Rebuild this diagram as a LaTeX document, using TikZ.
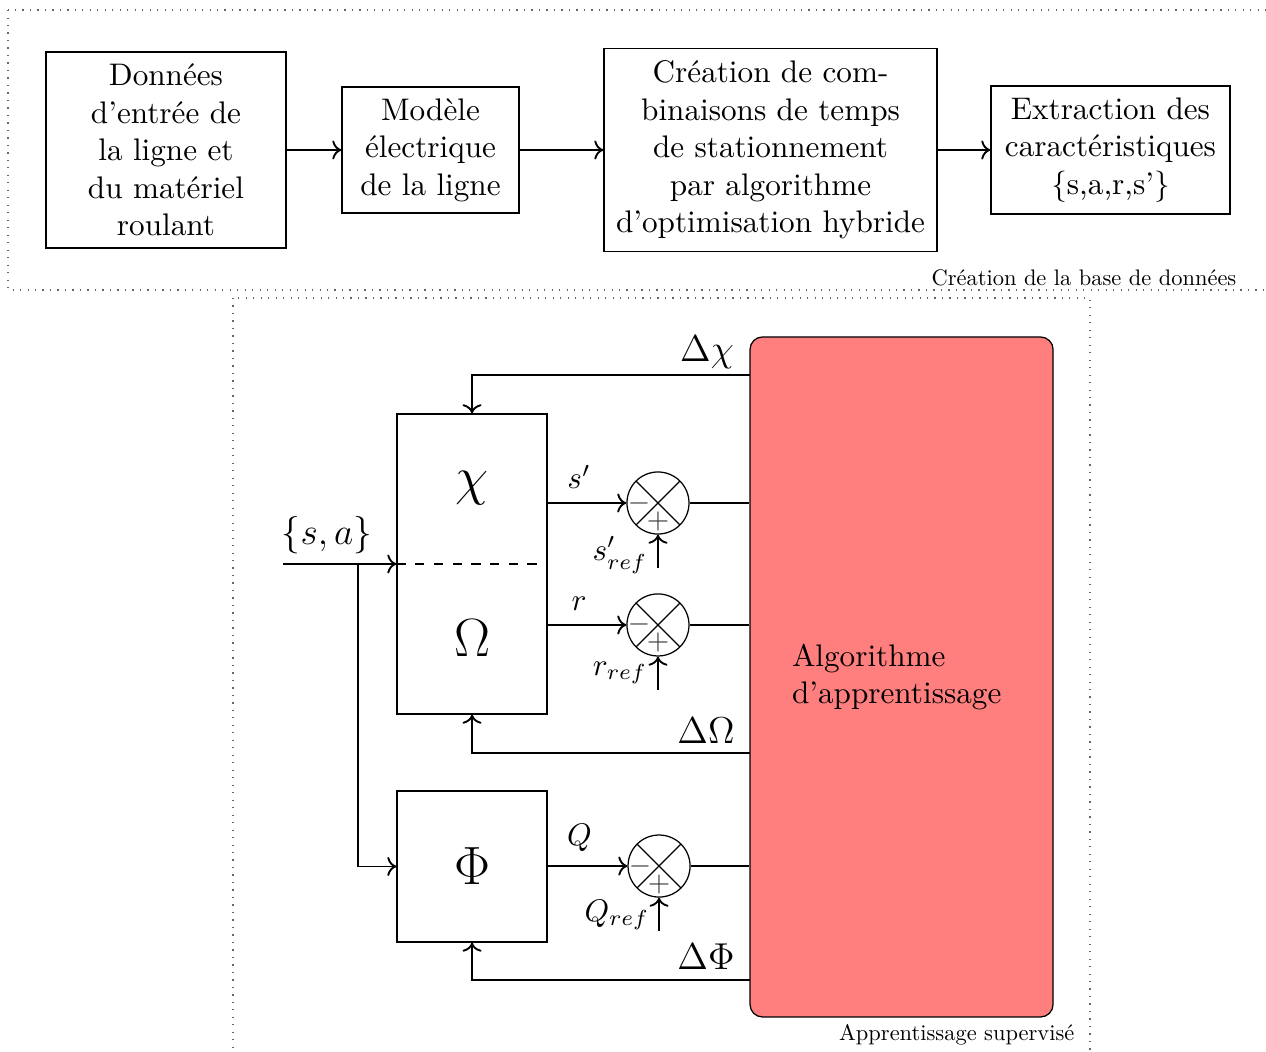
\documentclass[tikz,border=0pt]{standalone}
\usepackage{amsmath}
\usepackage{tikz}
\usetikzlibrary{arrows.meta, positioning, calc}
\definecolor{rougeAlgo}{HTML}{FF7F7F}
\definecolor{grisCadre}{HTML}{666666}
\font\legfont="[lmroman10-regular]:mapping=tex-text" at 7.2pt

\begin{document}
\begin{tikzpicture}[font=\normalsize,
        bloc/.style={draw, align=center, inner sep=2pt},
        somme/.style={draw, circle, minimum size=0.699cm, inner sep=0pt,
            path picture={\draw (path picture bounding box.north west) -- (path picture bounding box.south east)
                (path picture bounding box.north east) -- (path picture bounding box.south west);}},
        signe/.style={font=\small, inner sep=0pt, text=black!75},
        lien/.style={->, semithick},
        cadre/.style={dotted, grisCadre},
        legende/.style={font=\legfont, anchor=east, inner sep=0pt}]
        \useasboundingbox (0,0) rectangle (14.263,-11.852);
        % base de donnees
        \draw[cadre] (0.090,-0.113) rectangle (14.4,-3.267);
        \node[legende] (titreBase) at (13.936,-3.132) {Création de la base de données};
        \node[bloc, minimum width=2.704cm, minimum height=2.208cm] (donnees) at (1.870,-1.690) {Données\\d'entrée de\\la ligne et\\du matériel\\roulant};
        \node[bloc, minimum width=1.994cm, minimum height=1.420cm] (modele) at (4.850,-1.690) {Modèle\\électrique\\de la ligne};
        \node[bloc, minimum width=3.752cm, minimum height=2.287cm] (combi) at (8.681,-1.690) {Création de com-\\binaisons de temps\\de stationnement\\par algorithme\\d'optimisation hybride};
        \node[bloc, minimum width=2.693cm, minimum height=1.442cm] (extract) at (12.511,-1.690) {Extraction des\\caractéristiques\\\{s,a,r,s'\}};
        \draw[lien] (donnees) -- (modele);
        \draw[lien] (modele) -- (combi);
        \draw[lien] (combi) -- (extract);
        % apprentissage
        \draw[cadre] (2.625,-3.357) rectangle (12.280,-12.0);
        \node[legende] (titreAppr) at (12.111,-11.661) {Apprentissage supervisé};
        \node[bloc, minimum width=1.690cm, minimum height=3.380cm] (chiomega) at (5.318,-6.354) {};
        \draw[dashed] (chiomega.west) -- (chiomega.east);
        \node[font=\LARGE] (chi) at (5.318,-5.498) {$\chi$};
        \node[font=\LARGE] (omega) at (5.318,-7.190) {$\Omega$};
        \node[bloc, minimum width=1.690cm, minimum height=1.701cm, font=\LARGE] (phi) at (5.318,-9.762) {$\Phi$};
        \node[draw, fill=rougeAlgo, rounded corners, minimum width=3.414cm, minimum height=7.661cm, text width=2.467cm, align=left] (algo) at (10.157,-7.627) {Algorithme\\d'apprentissage};
        \node[somme] (s1) at (7.413,-5.667) {};
        \node[somme] (s2) at (7.413,-7.041) {};
        \node[somme] (s3) at (7.425,-9.757) {};
        \coordinate (r1) at (7.413,-6.399);
        \coordinate (r2) at (7.413,-7.774);
        \coordinate (r3) at (7.425,-10.489);
        \foreach \n in {1,2,3} {
            \node[signe] (m\n) at ($(s\n)+(-0.214,0)$) {$-$};
            \node[signe] (p\n) at ($(s\n)+(0,-0.203)$) {$+$};
            \draw[semithick] (s\n) -- (algo.west |- s\n);
            \draw[lien] (r\n) -- (s\n);
        }
        \draw[lien] (chiomega.east |- s1) -- node[above, pos=0.4, yshift=1pt] (ls) {$s'$} (s1);
        \draw[lien] (chiomega.east |- s2) -- node[above, pos=0.4, yshift=1pt] (lr) {$r$} (s2);
        \draw[lien] (phi.east |- s3) -- node[above, pos=0.4, yshift=1pt] (lq) {$Q$} (s3);
        \node (lsref) at (6.985,-6.253) {$s'_{ref}$};
        \node (lrref) at (6.985,-7.582) {$r_{ref}$};
        \node (lqref) at (6.951,-10.309) {$Q_{ref}$};
        % retours
        \coordinate (dchi) at (8.450,-4.225);
        \coordinate (domega) at (8.450,-8.484);
        \coordinate (dphi) at (8.450,-11.041);
        \draw[lien] (dchi) -| (chiomega.north);
        \draw[lien] (domega) -| (chiomega.south);
        \draw[lien] (dphi) -| (phi.south);
        \node[font=\large] (lchi) at (7.965,-3.966) {$\Delta\chi$};
        \node[font=\large] (lomega) at (7.954,-8.236) {$\Delta\Omega$};
        \node[font=\large] (lphi) at (7.954,-10.782) {$\Delta\Phi$};
        % entree
        \coordinate (entree) at (3.188,-6.354);
        \coordinate (branche) at (4.033,-6.354);
        \draw[lien] (entree) -- (chiomega.west);
        \draw[lien] (branche) |- (phi.west);
        \node[font=\large] (sa) at (3.684,-6.027) {$\{s,a\}$};
    \end{tikzpicture}
\end{document}
